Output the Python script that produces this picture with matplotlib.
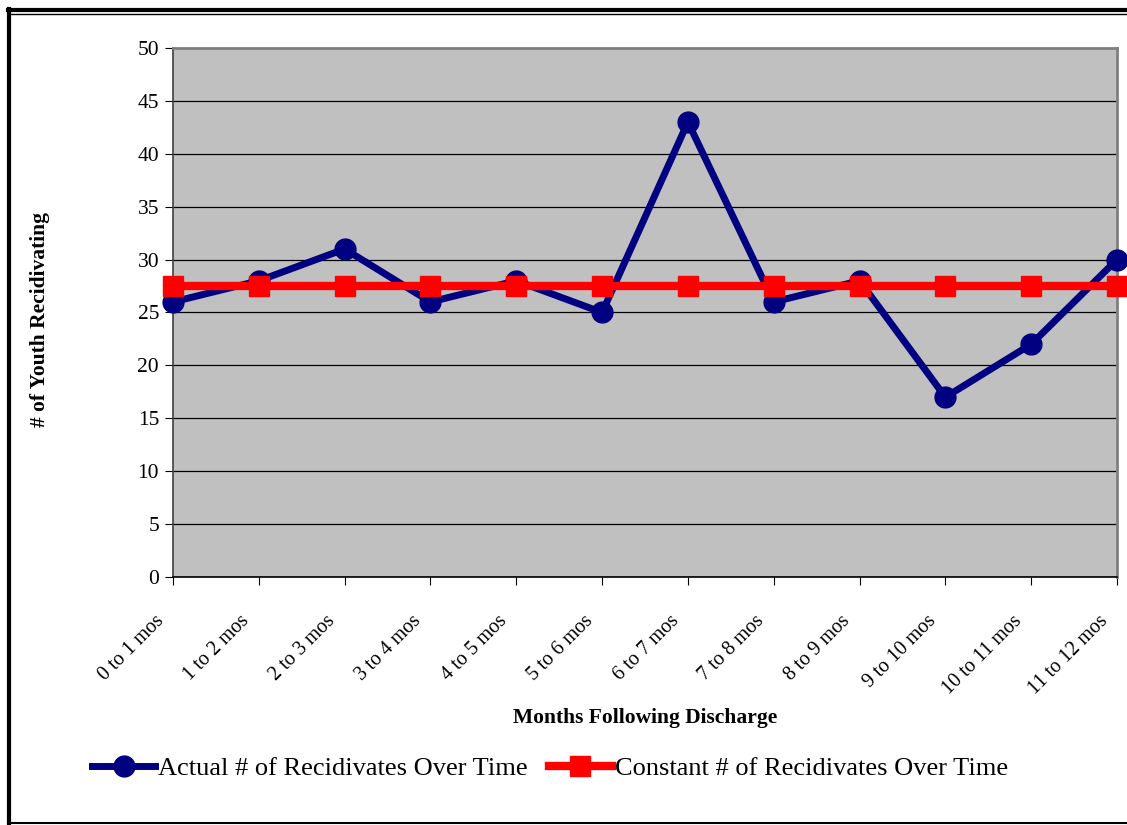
import matplotlib.pyplot as plt
from matplotlib.lines import Line2D
from matplotlib.transforms import ScaledTranslation

periods = ["0 to 1 mos", "1 to 2 mos", "2 to 3 mos", "3 to 4 mos", "4 to 5 mos",
           "5 to 6 mos", "6 to 7 mos", "7 to 8 mos", "8 to 9 mos", "9 to 10 mos",
           "10 to 11 mos", "11 to 12 mos"]
actual = [26, 28, 31, 26, 28, 25, 43, 26, 28, 17, 22, 30]
constant = [27.5] * len(periods)

plt.rcParams['font.family'] = ['Liberation Serif', 'DejaVu Serif']

fig = plt.figure(figsize=(11.27, 8.25), dpi=100)
ax = fig.add_axes([173 / 1127, 1 - 577 / 825, 944 / 1127, 529 / 825])
ax.set_facecolor('#C0C0C0')

x = range(len(periods))
ax.plot(x, actual, color='#000080', lw=5, marker='o', ms=15,
        label='Actual # of Recidivates Over Time', clip_on=False, zorder=3)
ax.plot(x, constant, color='#FF0000', lw=6, marker='s', ms=15,
        label='Constant # of Recidivates Over Time', clip_on=False, zorder=4)

ax.set_xlim(0, len(periods) - 1)
ax.set_ylim(0, 50)
ax.set_yticks(range(0, 51, 5))
ax.set_xticks(list(x))
ax.set_xticklabels(periods, rotation=45, ha='right', va='center', rotation_mode='anchor')
ax.tick_params(axis='y', labelsize=15.5, length=6, direction='out', pad=4)
ax.tick_params(axis='x', labelsize=14.5, length=6, direction='out', pad=24)
# nudge rotated labels left so they end just under each tick
shift = ScaledTranslation(-0.12, 0, fig.dpi_scale_trans)
for lbl in ax.get_xticklabels():
    lbl.set_transform(lbl.get_transform() + shift)
ax.grid(axis='y', color='black', lw=0.9)
ax.set_axisbelow(True)

for side in ['top', 'right']:
    ax.spines[side].set_color('#808080')
    ax.spines[side].set_linewidth(2)
ax.spines['left'].set_color('#404040')
ax.spines['bottom'].set_color('black')
ax.spines['left'].set_linewidth(1.2)
ax.spines['bottom'].set_linewidth(1.2)

ax.set_xlabel('Months Following Discharge', fontsize=15.5, fontweight='bold', va='center')
ax.set_ylabel('# of Youth Recidivating', fontsize=15.5, fontweight='bold', va='center')
ax.xaxis.set_label_coords(0.5, (577 - 718) / 529)
ax.yaxis.set_label_coords((40 - 173) / 944, (577 - 320) / 529)

fig.legend(loc='center', bbox_to_anchor=(0.488, 1 - 768 / 825), ncol=2, frameon=False,
           fontsize=19, handlelength=2.4, handletextpad=0.1, columnspacing=0.8)

# outer frame
fig.add_artist(Line2D([8 / 1127, 1], [1 - 10 / 825] * 2, color='black', lw=3))
fig.add_artist(Line2D([8 / 1127, 1], [1 - 14 / 825] * 2, color='black', lw=1))
fig.add_artist(Line2D([9 / 1127] * 2, [0, 1 - 9 / 825], color='black', lw=3))
fig.add_artist(Line2D([8 / 1127, 1], [1 - 823 / 825] * 2, color='black', lw=1.5))

fig.savefig('out.png', dpi=100)
